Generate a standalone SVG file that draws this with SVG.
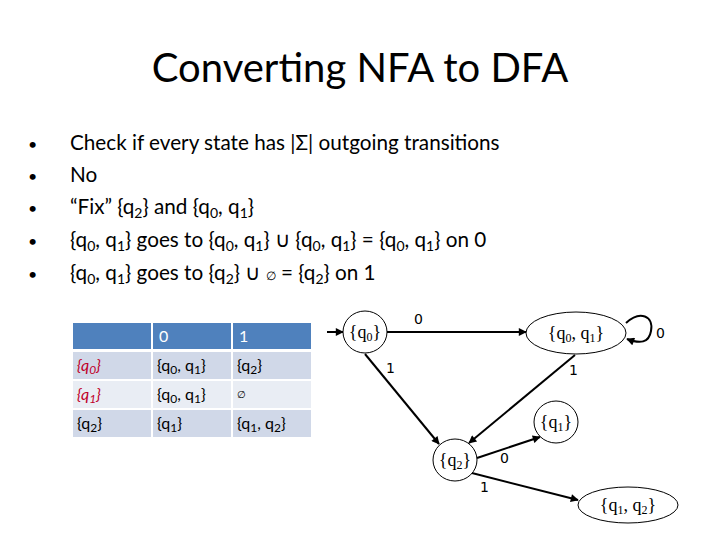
<svg xmlns="http://www.w3.org/2000/svg" width="720" height="540" viewBox="0 0 720 540">
<defs>
<style>
.t{font-family:Lato,"Open Sans",sans-serif;fill:#000}
.s{font-family:"Liberation Serif",serif;fill:#000;font-size:18px}
.lbl{font-family:"DejaVu Sans","Liberation Sans",sans-serif;font-size:14px;fill:#000}
.node{fill:#fff;stroke:#000;stroke-width:1}
.edge{stroke:#000;stroke-width:2;fill:none;marker-end:url(#ah)}
.tc{font-family:Lato,"Open Sans",sans-serif;font-size:16px;fill:#000}
</style>
<marker id="ah" viewBox="0 0 10 10" refX="9" refY="5" markerWidth="5" markerHeight="4" orient="auto" markerUnits="strokeWidth">
<path d="M0,0 L10,5 L0,10 z" fill="#000"/>
</marker>
</defs>
<rect width="720" height="540" fill="#fff"/>
<text class="t" x="360" y="82" font-size="40" text-anchor="middle">Converting NFA to DFA</text>
<g class="t" font-size="20.7">
<text x="28" y="150" font-size="16">•</text><text x="70" y="150">Check if every state has |Σ| outgoing transitions</text>
<text x="28" y="182" font-size="16">•</text><text x="70" y="182">No</text>
<text x="28" y="214" font-size="16">•</text><text x="70" y="214">“Fix” {q<tspan font-size="14" dy="4">2</tspan><tspan dy="-4">} and {q</tspan><tspan font-size="14" dy="4">0</tspan><tspan dy="-4">, q</tspan><tspan font-size="14" dy="4">1</tspan><tspan dy="-4">}</tspan></text>
<text x="28" y="247" font-size="16">•</text><text x="70" y="247">{q<tspan font-size="14" dy="4">0</tspan><tspan dy="-4">, q</tspan><tspan font-size="14" dy="4">1</tspan><tspan dy="-4">} goes to {q</tspan><tspan font-size="14" dy="4">0</tspan><tspan dy="-4">, q</tspan><tspan font-size="14" dy="4">1</tspan><tspan dy="-4">} ∪  {q</tspan><tspan font-size="14" dy="4">0</tspan><tspan dy="-4">, q</tspan><tspan font-size="14" dy="4">1</tspan><tspan dy="-4">} = {q</tspan><tspan font-size="14" dy="4">0</tspan><tspan dy="-4">, q</tspan><tspan font-size="14" dy="4">1</tspan><tspan dy="-4">} on 0</tspan></text>
<text x="28" y="280" font-size="16">•</text><text x="70" y="280">{q<tspan font-size="14" dy="4">0</tspan><tspan dy="-4">, q</tspan><tspan font-size="14" dy="4">1</tspan><tspan dy="-4">} goes to {q</tspan><tspan font-size="14" dy="4">2</tspan><tspan dy="-4">} ∪ </tspan><tspan font-size="12">∅</tspan><tspan> = {q</tspan><tspan font-size="14" dy="4">2</tspan><tspan dy="-4">} on 1</tspan></text>
</g>
<g id="table">
<rect x="73" y="323" width="78" height="26" fill="#4f81bd"/>
<rect x="153" y="323" width="78" height="26" fill="#4f81bd"/>
<rect x="233" y="323" width="78" height="26" fill="#4f81bd"/>
<rect x="73" y="352" width="78" height="27" fill="#d0d8e8"/>
<rect x="153" y="352" width="78" height="27" fill="#d0d8e8"/>
<rect x="233" y="352" width="78" height="27" fill="#d0d8e8"/>
<rect x="73" y="381" width="78" height="27" fill="#e9edf4"/>
<rect x="153" y="381" width="78" height="27" fill="#e9edf4"/>
<rect x="233" y="381" width="78" height="27" fill="#e9edf4"/>
<rect x="73" y="410" width="78" height="27" fill="#d0d8e8"/>
<rect x="153" y="410" width="78" height="27" fill="#d0d8e8"/>
<rect x="233" y="410" width="78" height="27" fill="#d0d8e8"/>
<text class="tc" x="159" y="342" style="fill:#fff">0</text>
<text class="tc" x="239" y="342" style="fill:#fff">1</text>
<text class="tc" x="77" y="371" style="fill:#c0002a;font-style:italic">{q<tspan font-size="12" dy="3">0</tspan><tspan dy="-3">}</tspan></text>
<text class="tc" x="157" y="371">{q<tspan font-size="12" dy="3">0</tspan><tspan dy="-3">, q</tspan><tspan font-size="12" dy="3">1</tspan><tspan dy="-3">}</tspan></text>
<text class="tc" x="237" y="371">{q<tspan font-size="12" dy="3">2</tspan><tspan dy="-3">}</tspan></text>
<text class="tc" x="77" y="400" style="fill:#c0002a;font-style:italic">{q<tspan font-size="12" dy="3">1</tspan><tspan dy="-3">}</tspan></text>
<text class="tc" x="157" y="400">{q<tspan font-size="12" dy="3">0</tspan><tspan dy="-3">, q</tspan><tspan font-size="12" dy="3">1</tspan><tspan dy="-3">}</tspan></text>
<text class="tc" x="237" y="398" style="font-size:10px">∅</text>
<text class="tc" x="77" y="429">{q<tspan font-size="12" dy="3">2</tspan><tspan dy="-3">}</tspan></text>
<text class="tc" x="157" y="429">{q<tspan font-size="12" dy="3">1</tspan><tspan dy="-3">}</tspan></text>
<text class="tc" x="237" y="429">{q<tspan font-size="12" dy="3">1</tspan><tspan dy="-3">, q</tspan><tspan font-size="12" dy="3">2</tspan><tspan dy="-3">}</tspan></text>
</g>
<g id="connectors">
<line class="edge" x1="327" y1="332" x2="343" y2="332"/>
<line class="edge" x1="387" y1="332" x2="526" y2="332"/>
<path class="edge" d="M626,323 C640,310 654,316 651,331 C649,343 640,344 627,339"/>
<line class="edge" x1="365" y1="354" x2="439" y2="444"/>
<line class="edge" x1="575" y1="355" x2="469" y2="443"/>
<line class="edge" x1="477" y1="458" x2="540" y2="437"/>
<line class="edge" x1="468" y1="472" x2="578" y2="500"/>
<text class="lbl" x="414" y="324">0</text>
<text class="lbl" x="656" y="338">0</text>
<text class="lbl" x="386" y="373">1</text>
<text class="lbl" x="569" y="375">1</text>
<text class="lbl" x="500" y="463">0</text>
<text class="lbl" x="480" y="492">1</text>
</g>
<g id="q0"><ellipse class="node" cx="365" cy="332" rx="22" ry="21"/><text class="s" x="365" y="338" text-anchor="middle">{q<tspan font-size="12" dy="3">0</tspan><tspan dy="-3">}</tspan></text></g>
<g id="q0q1"><ellipse class="node" cx="576" cy="333" rx="50" ry="21"/><text class="s" x="576" y="339" text-anchor="middle">{q<tspan font-size="12" dy="3">0</tspan><tspan dy="-3">, q</tspan><tspan font-size="12" dy="3">1</tspan><tspan dy="-3">}</tspan></text></g>
<g id="q1"><ellipse class="node" cx="556" cy="422" rx="22" ry="21"/><text class="s" x="556" y="428" text-anchor="middle">{q<tspan font-size="12" dy="3">1</tspan><tspan dy="-3">}</tspan></text></g>
<g id="q2"><ellipse class="node" cx="455" cy="460" rx="22" ry="21"/><text class="s" x="455" y="466" text-anchor="middle">{q<tspan font-size="12" dy="3">2</tspan><tspan dy="-3">}</tspan></text></g>
<g id="q1q2"><ellipse class="node" cx="628" cy="505" rx="50" ry="18"/><text class="s" x="628" y="511" text-anchor="middle">{q<tspan font-size="12" dy="3">1</tspan><tspan dy="-3">, q</tspan><tspan font-size="12" dy="3">2</tspan><tspan dy="-3">}</tspan></text></g>
</svg>
